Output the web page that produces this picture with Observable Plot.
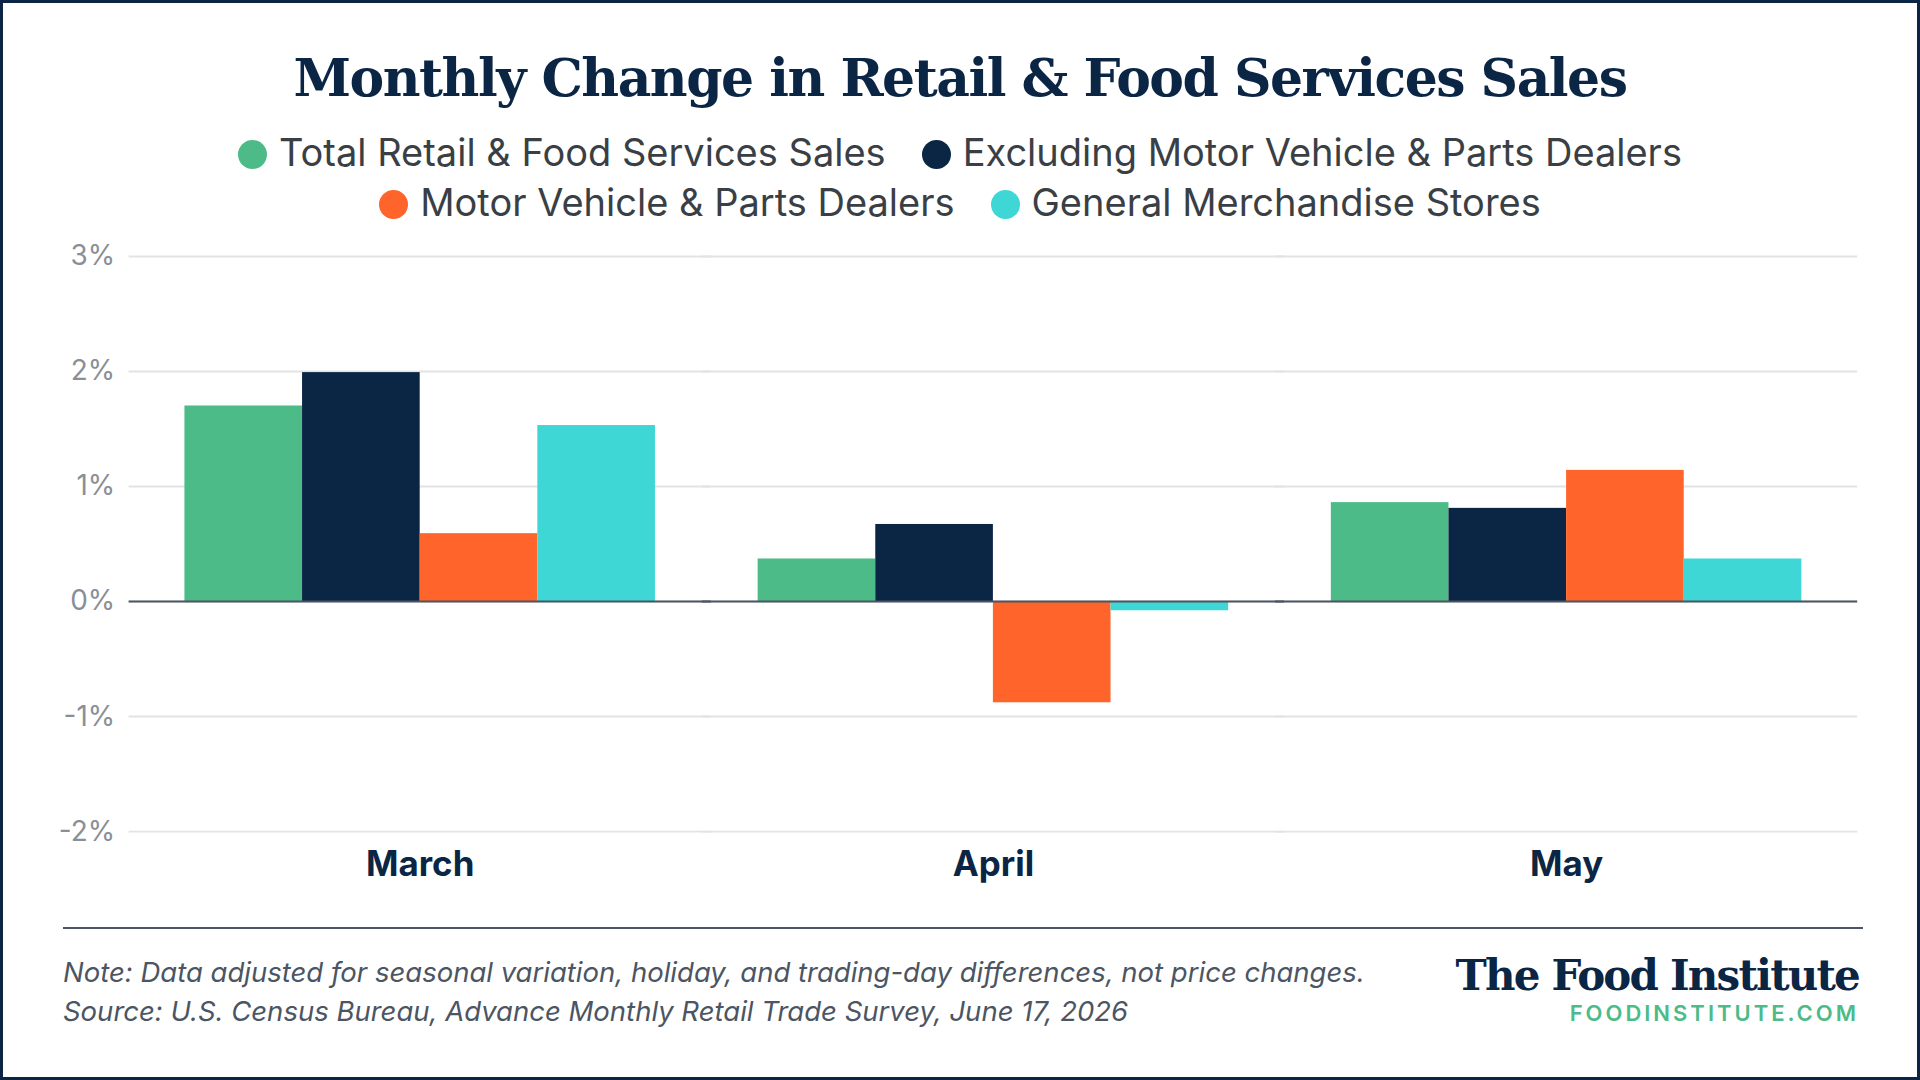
<!DOCTYPE html>
<html>
<head>
<meta charset="utf-8">
<script src="https://cdn.jsdelivr.net/npm/d3@7"></script>
<script src="https://cdn.jsdelivr.net/npm/@observablehq/plot@0.6"></script>
<style>
body{margin:0;background:#fff;}
#frame{position:relative;width:1914px;height:1074px;border:3px solid #0b2545;background:#fff;font-family:Inter,"Noto Sans",sans-serif;overflow:hidden;}
h1{position:absolute;top:44px;left:0;width:100%;margin:0;text-align:center;font-family:"DejaVu Serif",serif;font-weight:bold;font-size:52px;color:#0b2545;letter-spacing:-1.5px;}
.legend{position:absolute;left:0;width:100%;text-align:center;font-size:38px;color:#3a3f45;}
.legend span{margin:0 18px;white-space:nowrap;}
.legend i{display:inline-block;width:29px;height:29px;border-radius:50%;margin-right:12px;vertical-align:-3px;}
#chart{position:absolute;top:230px;left:0;}
#rule{position:absolute;top:924px;left:60px;width:1800px;border-top:2px solid #4b5563;}
.note{position:absolute;left:60px;font-style:italic;font-size:27.5px;color:#4b5563;}
.logo{position:absolute;right:58px;top:948px;text-align:right;}
.logo .n{font-family:"DejaVu Serif",serif;font-weight:bold;font-size:42px;color:#0b2545;letter-spacing:-1.8px;}
.logo .u{font-size:22px;color:#4cbb87;letter-spacing:3px;font-weight:600;}
#chart text{font-variant-numeric:normal;}
</style>
</head>
<body>
<div id="frame">
<h1>Monthly Change in Retail &amp; Food Services Sales</h1>
<div class="legend" style="top:126px"><span><i style="background:#4cbb87"></i>Total Retail &amp; Food Services Sales</span><span><i style="background:#0b2545"></i>Excluding Motor Vehicle &amp; Parts Dealers</span></div>
<div class="legend" style="top:176px"><span><i style="background:#ff652b"></i>Motor Vehicle &amp; Parts Dealers</span><span><i style="background:#3fd7d5"></i>General Merchandise Stores</span></div>
<div id="chart"></div>
<div id="rule"></div>
<div class="note" style="top:952px">Note: Data adjusted for seasonal variation, holiday, and trading-day differences, not price changes.</div>
<div class="note" style="top:991px">Source: U.S. Census Bureau, Advance Monthly Retail Trade Survey, June 17, 2026</div>
<div class="logo"><div class="n">The Food Institute</div><div class="u">FOODINSTITUTE.COM</div></div>
</div>
<script>
const months = ["March", "April", "May"];
const series = ["Total Retail & Food Services Sales", "Excluding Motor Vehicle & Parts Dealers", "Motor Vehicle & Parts Dealers", "General Merchandise Stores"];
const colors = ["#4cbb87", "#0b2545", "#ff652b", "#3fd7d5"];
const totalSales = [1.70, 0.37, 0.86];
const exMotor = [1.99, 0.67, 0.81];
const motor = [0.59, -0.88, 1.14];
const general = [1.53, -0.08, 0.37];
const yTicks = [-2, -1, 0, 1, 2, 3];

const values = [totalSales, exMotor, motor, general];
const data = [];
months.forEach((m, i) => series.forEach((s, j) => data.push({month: m, series: s, value: values[j][i]})));

const chart = Plot.plot({
  width: 1920,
  height: 660,
  marginTop: 23,
  marginBottom: 60,
  marginLeft: 126,
  marginRight: 60,
  style: {fontFamily: "Inter, 'Noto Sans', sans-serif", overflow: "visible"},
  fx: {domain: months, paddingInner: 0.179, paddingOuter: 0.096, label: null},
  x: {domain: series, padding: 0, axis: null},
  y: {domain: [-2, 3], ticks: yTicks, label: null, tickFormat: d => d + "%"},
  color: {domain: series, range: colors},
  marks: [
    Plot.ruleY(yTicks, {stroke: "#e3e3e3", strokeWidth: 2, insetLeft: -56, insetRight: -56}),
    Plot.barY(data, {fx: "month", x: "series", y: "value", fill: "series"}),
    Plot.ruleY([0], {stroke: "#4b5563", strokeWidth: 2, insetLeft: -56, insetRight: -56}),
    Plot.axisY({ticks: yTicks, tickSize: 0, tickPadding: 70, fontSize: 28, fill: "#8a8f96", tickFormat: d => d + "%"}),
    Plot.axisFx({anchor: "bottom", tickSize: 0, tickPadding: 20, fontSize: 35, fontWeight: "bold", fill: "#0b2545", label: null})
  ]
});
document.getElementById("chart").append(chart);
</script>
</body>
</html>
